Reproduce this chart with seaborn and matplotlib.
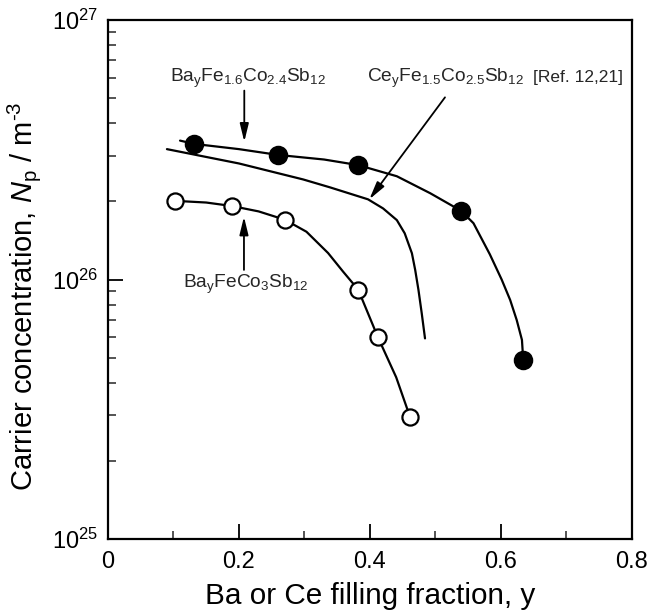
import numpy as np
import pandas as pd
import matplotlib
matplotlib.use("Agg")
import matplotlib.pyplot as plt
import seaborn as sns
from matplotlib.ticker import LogLocator, MultipleLocator, FixedLocator, NullFormatter

# ---- data ----
# Ba_yFe1.6Co2.4Sb12 (filled circles)
filled_y = [0.132, 0.260, 0.382, 0.539, 0.634]
filled_n = [3.33e26, 3.02e26, 2.76e26, 1.84e26, 4.88e25]
# guide curve through filled points (traced)
filled_curve_y = [0.110, 0.132, 0.200, 0.260, 0.330, 0.382, 0.441, 0.492, 0.539,
                  0.558, 0.583, 0.601, 0.614, 0.624, 0.632, 0.634]
filled_curve_n = [3.43e26, 3.33e26, 3.18e26, 3.02e26, 2.90e26, 2.76e26, 2.50e26, 2.15e26,
                  1.84e26, 1.648e26, 1.25e26, 1.0e26, 8.34e25, 6.98e25, 5.85e25, 4.88e25]

# Ba_yFeCo3Sb12 (open circles)
open_y = [0.102, 0.189, 0.270, 0.382, 0.412, 0.461]
open_n = [2.01e26, 1.92e26, 1.70e26, 9.14e25, 6.0e25, 2.96e25]
open_curve_y = [0.102, 0.150, 0.189, 0.230, 0.270, 0.303, 0.336, 0.359, 0.382,
                0.412, 0.440, 0.461]
open_curve_n = [2.01e26, 1.98e26, 1.92e26, 1.83e26, 1.70e26, 1.528e26, 1.265e26,
                1.072e26, 9.14e25, 6.0e25, 4.2e25, 2.96e25]

# Ce_yFe1.5Co2.5Sb12 [Ref. 12,21] (line only, traced)
ce_curve_y = [0.090, 0.200, 0.298, 0.339, 0.397, 0.420, 0.441, 0.453, 0.464,
              0.469, 0.474, 0.479, 0.484]
ce_curve_n = [3.18e26, 2.80e26, 2.43e26, 2.265e26, 2.037e26, 1.879e26, 1.694e26,
              1.507e26, 1.262e26, 1.089e26, 9.12e25, 7.41e25, 5.93e25]

x_ticks = [0, 0.2, 0.4, 0.6, 0.8]
x_tick_labels = ["0", "0.2", "0.4", "0.6", "0.8"]

sns.set_theme(style="ticks")
plt.rcParams["font.family"] = ["Liberation Sans", "DejaVu Sans"]
plt.rcParams["mathtext.fontset"] = "custom"
plt.rcParams["mathtext.rm"] = "Liberation Sans"
plt.rcParams["mathtext.it"] = "Liberation Sans:italic"
plt.rcParams["mathtext.bf"] = "Liberation Sans:bold"

fig = plt.figure(figsize=(6.47, 6.16), dpi=100)
ax = fig.add_axes([0.1669, 0.125, 0.8099, 0.8425])

fc = pd.DataFrame({"y": filled_curve_y, "n": filled_curve_n})
oc = pd.DataFrame({"y": open_curve_y, "n": open_curve_n})
cc = pd.DataFrame({"y": ce_curve_y, "n": ce_curve_n})
fp = pd.DataFrame({"y": filled_y, "n": filled_n})
op = pd.DataFrame({"y": open_y, "n": open_n})

lw = 1.6
for d in (fc, oc, cc):
    sns.lineplot(data=d, x="y", y="n", sort=False, color="black", lw=lw, ax=ax,
                 zorder=2, solid_joinstyle="round")
sns.scatterplot(data=fp, x="y", y="n", s=165, color="black", edgecolor="black",
                linewidth=1.2, ax=ax, zorder=3)
sns.scatterplot(data=op, x="y", y="n", s=135, color="white", edgecolor="black",
                linewidth=1.6, ax=ax, zorder=3)

ax.set_yscale("log")
ax.set_xlim(0, 0.8)
ax.set_ylim(1e25, 1e27)

ax.xaxis.set_major_locator(FixedLocator(x_ticks))
ax.set_xticklabels(x_tick_labels)
ax.xaxis.set_minor_locator(MultipleLocator(0.1))
ax.yaxis.set_major_locator(LogLocator(base=10, numticks=10))
ax.yaxis.set_minor_locator(LogLocator(base=10, subs=np.arange(2, 10), numticks=20))
ax.yaxis.set_minor_formatter(NullFormatter())

ax.tick_params(axis="both", which="major", direction="in", length=11, width=1.3,
               labelsize=17, colors="black")
ax.tick_params(axis="x", which="major", pad=9)
ax.tick_params(axis="y", which="major", pad=7)
ax.tick_params(axis="both", which="minor", direction="in", length=6, width=1.1)
ax.tick_params(top=False, right=False, which="both")
for s in ax.spines.values():
    s.set_linewidth(1.6)
    s.set_color("black")

ax.set_xlabel("Ba or Ce filling fraction, y", fontsize=21.4, labelpad=6, color="black")
ax.set_ylabel(r"Carrier concentration, $\mathit{N}_\mathregular{p}$ / m$^{\text{-3}}$",
              fontsize=21, color="black")
ax.yaxis.set_label_coords(-0.124, 0.467)

arrowprops = dict(arrowstyle="-|>,head_length=0.9,head_width=0.22", color="black",
                  lw=1.3, shrinkA=0, shrinkB=0)

fs = 13.8
ax.annotate("", xy=(0.2081, 10**26.531), xytext=(0.2081, 10**26.728), arrowprops=arrowprops)
ax.text(0.2143, 10**26.762, r"Ba$_\mathregular{y}$Fe$_\mathregular{1.6}$Co$_\mathregular{2.4}$Sb$_\mathregular{12}$",
        ha="center", va="baseline", fontsize=fs)

ax.annotate("", xy=(0.399, 10**26.309), xytext=(0.5145, 10**26.702), arrowprops=arrowprops)
ax.text(0.395, 10**26.762, r"Ce$_\mathregular{y}$Fe$_\mathregular{1.5}$Co$_\mathregular{2.5}$Sb$_\mathregular{12}$",
        ha="left", va="baseline", fontsize=fs)
ax.text(0.6489, 10**26.762, "[Ref. 12,21]", ha="left", va="baseline", fontsize=12.5)

ax.annotate("", xy=(0.2076, 10**26.242), xytext=(0.2076, 10**26.037), arrowprops=arrowprops)
ax.text(0.2104, 10**25.967, r"Ba$_\mathregular{y}$FeCo$_\mathregular{3}$Sb$_\mathregular{12}$",
        ha="center", va="baseline", fontsize=fs)

fig.savefig("out.png", dpi=100)
